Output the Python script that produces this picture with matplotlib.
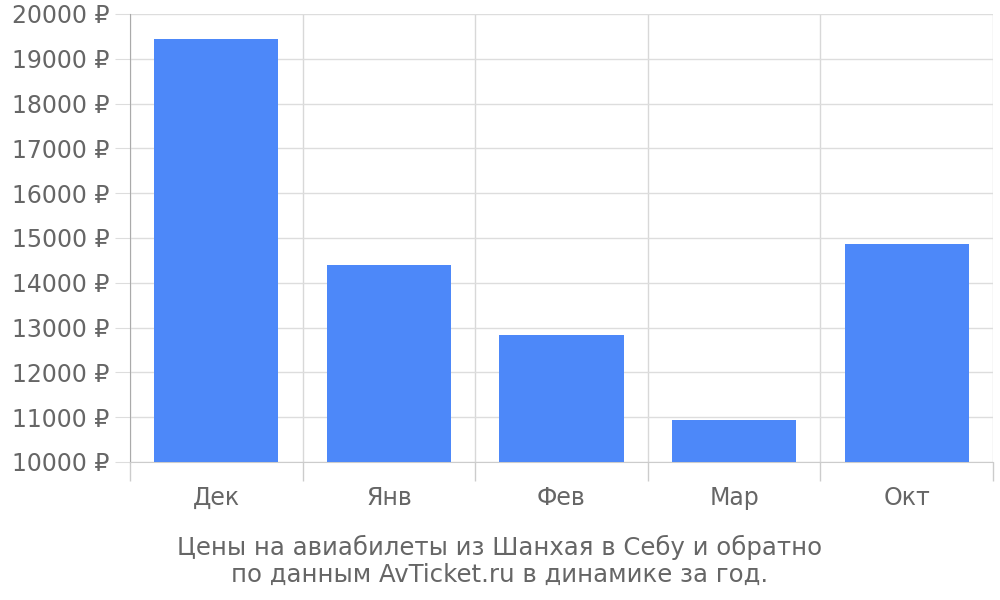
import matplotlib
matplotlib.use("Agg")
import matplotlib.pyplot as plt
import numpy as np

# Prices by month
months = ["Дек", "Янв", "Фев", "Мар", "Окт"]
prices = [19440, 14400, 12840, 10930, 14860]
y_ticks = list(range(10000, 20001, 1000))

fig = plt.figure(figsize=(10, 6), dpi=100)
ax = fig.add_axes([0.13, 0.23, 0.863, 0.7467])

x = np.arange(len(months))
ax.bar(x, prices, width=0.72, color="#4d88f9", zorder=3)

ax.set_xlim(-0.5, len(months) - 0.5)
ax.set_ylim(10000, 20000)
ax.set_yticks(y_ticks)
ax.set_yticklabels([f"{v} ₽" for v in y_ticks])
ax.set_xticks(x)
ax.set_xticklabels(months)

# vertical separators between categories
ax.set_xticks(np.arange(len(months) + 1) - 0.5, minor=True)
ax.grid(axis="y", color="#dddddd", linewidth=1, zorder=0)
ax.grid(axis="x", which="minor", color="#d8d8d8", linewidth=1, zorder=0)
ax.tick_params(axis="x", which="major", length=0, pad=17, labelsize=17, labelcolor="#666666")
ax.tick_params(axis="x", which="minor", length=14, color="#cccccc", width=1)
ax.tick_params(axis="y", length=11, color="#dddddd", pad=4, labelsize=17, labelcolor="#666666")

for s in ["top", "right"]:
    ax.spines[s].set_visible(False)
ax.spines["left"].set_color("#aaaaaa")
ax.spines["bottom"].set_color("#cccccc")

fig.text(0.5, 0.065, "Цены на авиабилеты из Шанхая в Себу и обратно\nпо данным AvTicket.ru в динамике за год.",
         ha="center", va="center", fontsize=17.6, color="#666666", linespacing=1.15)

fig.savefig("out.png", dpi=100)
